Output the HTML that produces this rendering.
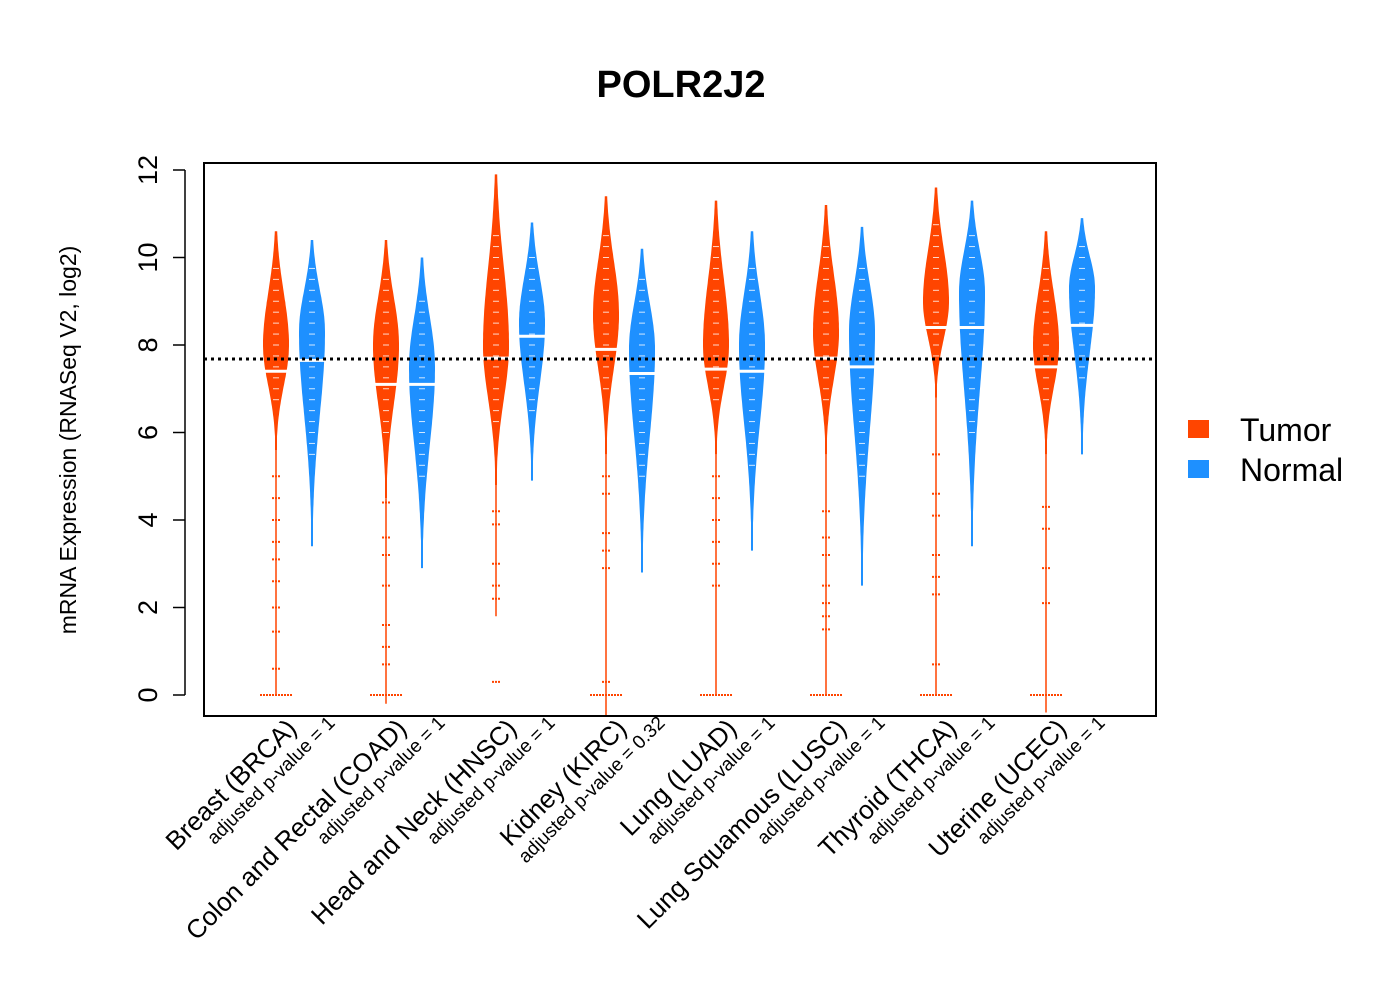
<!DOCTYPE html>
<html><head><meta charset="utf-8"><style>
body{margin:0;background:#fff}
svg{font-family:"Liberation Sans",Arial,sans-serif}
</style></head><body>
<svg id="chart" width="1400" height="1000" viewBox="0 0 1400 1000">
<rect width="1400" height="1000" fill="#fff"/>
<text x="681" y="97" text-anchor="middle" font-size="38" font-weight="bold">POLR2J2</text>
<g id="marks"></g>
<rect x="204" y="163" width="952" height="553" fill="none" stroke="#000" stroke-width="2"/>
<g id="yaxis"></g>
<g id="xlabels"></g>
<text transform="translate(76,440) rotate(-90)" text-anchor="middle" font-size="23">mRNA Expression (RNASeq V2, log2)</text>
<g>
<rect x="1188" y="420" width="21" height="18" fill="#FF4500"/>
<text x="1240" y="441" font-size="32">Tumor</text>
<rect x="1188" y="460" width="21" height="18" fill="#1E90FF"/>
<text x="1240" y="481" font-size="32">Normal</text>
</g>
</svg>
<script>
const categories=["Breast (BRCA)","Colon and Rectal (COAD)","Head and Neck (HNSC)","Kidney (KIRC)","Lung (LUAD)","Lung Squamous (LUSC)","Thyroid (THCA)","Uterine (UCEC)"];
const pvalues=["adjusted p-value = 1","adjusted p-value = 1","adjusted p-value = 1","adjusted p-value = 0.32","adjusted p-value = 1","adjusted p-value = 1","adjusted p-value = 1","adjusted p-value = 1"];
const tumorMin=[5.6,4.5,4.8,5.5,5.5,5.5,6.8,5.5];
const tumorMax=[10.6,10.4,11.9,11.4,11.3,11.2,11.6,10.6];
const tumorMode=[8.0,8.0,8.0,8.7,8.0,8.3,9.0,8.0];
const tumorMedian=[7.4,7.1,7.7,7.9,7.45,7.7,8.4,7.5];
const tumorTail=[0,-0.2,1.8,-0.5,0,0,0,-0.4];
const normalMin=[3.4,2.9,4.9,2.8,3.3,2.5,3.4,5.5];
const normalMax=[10.4,10.0,10.8,10.2,10.6,10.7,11.3,10.9];
const normalMode=[8.3,7.5,8.5,7.9,8.0,8.3,9.2,9.3];
const normalMedian=[7.65,7.1,8.2,7.35,7.4,7.5,8.4,8.45];
const tumorOutliers=[[0,0.6,1.45,2.0,2.6,3.1,3.5,4.0,4.5,5.0],[0,0.7,1.1,1.6,2.5,3.2,3.6,4.4],[0.3,2.2,2.5,3.0,3.9,4.2],[0,0.3,2.9,3.3,3.7,4.6,5.0],[0,2.5,3.0,3.5,4.0,4.5,5.0],[0,1.5,1.8,2.1,2.5,3.2,3.6,4.2],[0,0.7,2.3,2.7,3.2,4.1,4.6,5.5],[0,2.1,2.9,3.8,4.3]];
const yTicks=[0,2,4,6,8,10,12];
const refLine=7.68;

const NS="http://www.w3.org/2000/svg";
const y=v=>695-v*43.75;
const xT=i=>276+i*110, xN=i=>312+i*110;
const marks=document.getElementById('marks');
function mk(tag,attrs,parent){const e=document.createElementNS(NS,tag);for(const k in attrs)e.setAttribute(k,attrs[k]);parent.appendChild(e);return e;}

function violin(cx,lo,hi,mode,med,color,name){
  const g=mk('g',{},marks);
  
  
  const sl=(mode-lo)/2.6, sh=(hi-mode)/2.2, W=13;
  const L=[],R=[];
  for(let k=0;k<=80;k++){const v=lo+(hi-lo)*k/80;const s=v<mode?sl:sh;const w=Math.max(1,W*Math.exp(-0.5*((v-mode)/s)**2));L.push([cx-w,y(v)]);R.push([cx+w,y(v)]);}
  const pts=R.concat(L.reverse()).map(p=>p[0].toFixed(1)+','+p[1].toFixed(1)).join(' ');
  const p=mk('polygon',{points:pts,fill:color},g);
  
  
  for(let v=Math.ceil(lo*4)/4;v<hi;v+=0.25){const s=v<mode?sl:sh;const w=W*Math.exp(-0.5*((v-mode)/s)**2);if(w>4)mk('line',{x1:cx-3,x2:cx+3,y1:y(v),y2:y(v),stroke:'#fff','stroke-width':1,opacity:0.8},g);}
  const m=mk('line',{x1:cx-14,x2:cx+14,y1:y(med),y2:y(med),stroke:'#fff','stroke-width':3},g);
  
  
}
categories.forEach((c,i)=>{
  mk('line',{x1:xT(i),x2:xT(i),y1:y(tumorMin[i]),y2:y(tumorTail[i]),stroke:'#FF4500','stroke-width':1.5},marks);
  tumorOutliers[i].forEach(v=>{const o=mk('line',{x1:xT(i)-(v===0?16:4),x2:xT(i)+(v===0?16:4),y1:y(v),y2:y(v),stroke:'#FF4500','stroke-width':2,'stroke-dasharray':'2,1'},marks);
    
    });
  violin(xT(i),tumorMin[i],tumorMax[i],tumorMode[i],tumorMedian[i],'#FF4500','violin-tumor-'+i);
  violin(xN(i),normalMin[i],normalMax[i],normalMode[i],normalMedian[i],'#1E90FF','violin-normal-'+i);
});
const rl=mk('line',{x1:204,x2:1156,y1:y(refLine),y2:y(refLine),stroke:'#000','stroke-width':3,'stroke-dasharray':'3,4'},marks);



const ya=document.getElementById('yaxis');
mk('line',{x1:185,x2:185,y1:y(0),y2:y(12),stroke:'#000','stroke-width':1.5},ya);
yTicks.forEach(t=>{mk('line',{x1:173,x2:185,y1:y(t),y2:y(t),stroke:'#000','stroke-width':1.5},ya);
  const tx=mk('text',{transform:`translate(157,${y(t)}) rotate(-90)`,'text-anchor':'middle','font-size':27},ya);tx.textContent=t;
  
  });

const xl=document.getElementById('xlabels');
categories.forEach((c,i)=>{
  const cx=xT(i)+18;
  const t=mk('text',{transform:`translate(${cx+4},${730}) rotate(-45)`,'text-anchor':'end','font-size':26},xl);t.textContent=c;
  
  
  const s=mk('text',{transform:`translate(${cx+42},${724}) rotate(-45)`,'text-anchor':'end','font-size':19},xl);s.textContent=pvalues[i];
  
  
});
</script>
</body></html>
